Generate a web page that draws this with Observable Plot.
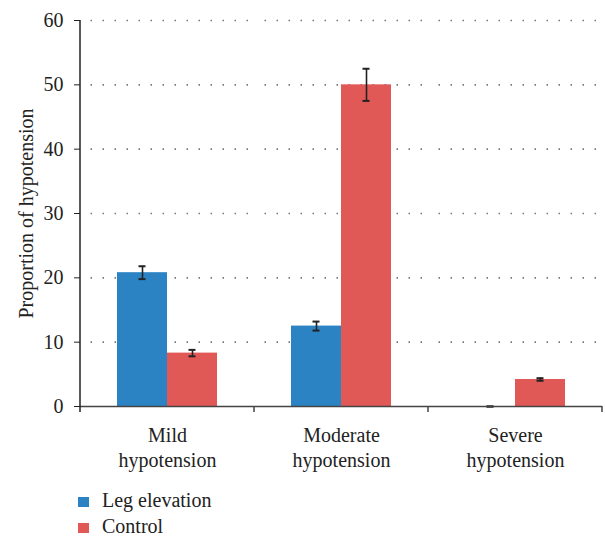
<!DOCTYPE html>
<html>
<head>
<meta charset="utf-8">
<script src="https://cdn.jsdelivr.net/npm/d3@7"></script>
<script src="https://cdn.jsdelivr.net/npm/@observablehq/plot@0.6"></script>
<style>
  html, body { margin: 0; padding: 0; background: #fff; font-family: 'Liberation Serif'; }
  #chart { width: 605px; }
  .legend { font-family: 'Liberation Serif'; font-size: 20px; color: #222; margin-top: 12px; }
  .legend .row { display: flex; align-items: flex-start; height: 26px; line-height: 26px; }
  .legend .sw { width: 11px; height: 10px; margin-left: 78px; margin-top: 10px; }
  .legend .lab { margin-left: 13px; }
</style>
</head>
<body>
<div id="chart"></div>
<script>
const categories = ["Mild hypotension", "Moderate hypotension", "Severe hypotension"];
const series = ["Leg elevation", "Control"];
const legValues = [20.8, 12.5, 0];
const legErrors = [1.0, 0.7, 0];
const controlValues = [8.3, 50.0, 4.2];
const controlErrors = [0.5, 2.5, 0.2];
const yTicks = [0, 10, 20, 30, 40, 50, 60];
const colors = ["#2b83c3", "#e05956"];

const data = [];
categories.forEach((c, i) => {
  data.push({category: c, series: series[0], value: legValues[i], err: legErrors[i]});
  data.push({category: c, series: series[1], value: controlValues[i], err: controlErrors[i]});
});

const plot = Plot.plot({
  width: 605,
  height: 475,
  marginLeft: 79,
  marginRight: 2,
  marginTop: 20,
  marginBottom: 69,
  style: {fontFamily: "'Liberation Serif'", fontSize: "20px", color: "#222", background: "#fff"},
  fx: {domain: categories, padding: 0, label: null, axis: null},
  x: {domain: series, paddingInner: 0, paddingOuter: 0.716, axis: null},
  y: {domain: [0, 60], ticks: yTicks, tickSize: 6, tickPadding: 11,
      label: "Proportion of hypotension", labelAnchor: "center", labelOffset: 62, labelArrow: false},
  color: {domain: series, range: colors},
  marks: [
    Plot.gridY(yTicks.slice(1), {stroke: "#777", strokeOpacity: 1, strokeWidth: 1.6,
      strokeDasharray: "1.5 10.5", strokeDashoffset: 1.5}),
    Plot.barY(data, {fx: "category", x: "series", y: "value", fill: "series"}),
    Plot.ruleX(data, {fx: "category", x: "series", y1: d => d.value - d.err, y2: d => d.value + d.err,
      stroke: "#222", strokeWidth: 1.6}),
    Plot.tickY(data, {fx: "category", x: "series", y: d => d.value + d.err, stroke: "#222",
      strokeWidth: 2, insetLeft: 21.5, insetRight: 21.5}),
    Plot.tickY(data, {fx: "category", x: "series", y: d => d.value - d.err, stroke: "#222",
      strokeWidth: 2, insetLeft: 21.5, insetRight: 21.5}),
    Plot.ruleY([0], {stroke: "#444", strokeWidth: 1.5}),
    Plot.axisFx({anchor: "bottom", tickSize: 0, tickPadding: 18, lineHeight: 1.25,
      label: null, tickFormat: d => d.replace(" ", "\n"), fill: "#222"})
  ]
});

// Draw the axis line and the category boundary ticks from the library's scales
const svg = d3.select(plot);
const fx = plot.scale("fx");
const y = plot.scale("y");
const y0 = y.apply(0), y60 = y.apply(60);
const bounds = categories.map(c => fx.apply(c));
bounds.push(fx.apply(categories[categories.length - 1]) + fx.bandwidth);
const g = svg.append("g");
g.append("line").attr("x1", bounds[0]).attr("x2", bounds[0]).attr("y1", y60).attr("y2", y0 + 6)
  .attr("stroke", "#222").attr("stroke-width", 1.5);
bounds.slice(1).forEach(b => {
  g.append("line").attr("x1", b).attr("x2", b).attr("y1", y0).attr("y2", y0 + 6)
    .attr("stroke", "#444").attr("stroke-width", 1.5);
});
svg.style("font-family", "'Liberation Serif'");

document.getElementById("chart").appendChild(plot);

const legend = d3.select("#chart").append("div").attr("class", "legend");
series.forEach((s, i) => {
  const row = legend.append("div").attr("class", "row");
  row.append("div").attr("class", "sw").style("background", colors[i]);
  row.append("span").attr("class", "lab").text(s);
});
</script>
</body>
</html>
